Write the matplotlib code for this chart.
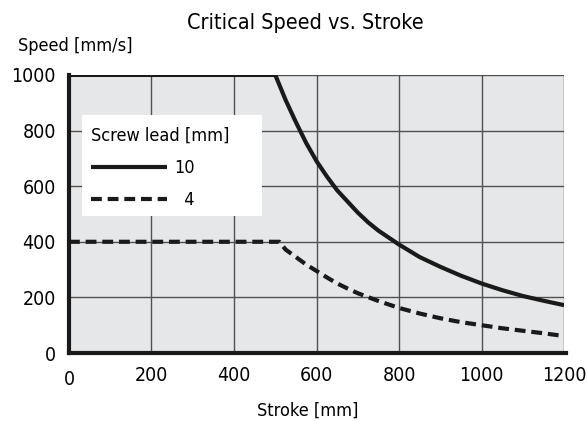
import matplotlib
matplotlib.use('Agg')
import matplotlib.pyplot as plt
from matplotlib.patches import Rectangle

plt.rcParams['font.family'] = ['DejaVu Sans']
plt.rcParams['font.stretch'] = 'condensed'

# values
stroke_10 = [0, 500, 525, 550, 575, 600, 625, 650, 675, 700, 725, 750, 800,
             850, 900, 950, 1000, 1050, 1100, 1150, 1200]
speed_10 = [1000, 1000, 910, 830, 755, 690, 635, 585, 545, 505, 470, 440, 390,
            345, 310, 278, 250, 226, 205, 188, 172]
stroke_4 = [0, 510, 525, 550, 575, 600, 625, 650, 675, 700, 750, 800, 850,
            900, 950, 1000, 1050, 1100, 1150, 1190]
speed_4 = [400, 400, 372, 345, 318, 295, 272, 250, 232, 215, 187, 162, 142,
           125, 111, 100, 89, 80, 71, 63]

x_ticks = [200, 400, 600, 800, 1000, 1200]
y_ticks = [0, 200, 400, 600, 800, 1000]

fig = plt.figure(figsize=(5.87, 4.21), dpi=100)
ax = fig.add_axes([0.1175, 0.1615, 0.8435, 0.6605])
ax.set_facecolor('#e6e7e8')

ax.plot(stroke_10, speed_10, color='#1a1a1a', lw=3, label='10', solid_capstyle='butt')
# figure space keeps the "4" right-aligned under "10"
ax.plot(stroke_4, speed_4, color='#1a1a1a', lw=3, dashes=(2.6, 1.4), label='\u20074')

ax.set_xlim(0, 1200)
ax.set_ylim(0, 1000)
ax.set_xticks(x_ticks)
ax.set_yticks(y_ticks)
ax.tick_params(length=0, labelsize=14)
ax.tick_params(axis='x', pad=9)
ax.tick_params(axis='y', pad=9.5)
ax.text(0, -0.095, '0', transform=ax.get_xaxis_transform(), ha='center', va='center', fontsize=14)

ax.grid(True, color='#505050', lw=1)
ax.set_axisbelow(True)
for s in ['top', 'right']:
    ax.spines[s].set_visible(False)
ax.spines['left'].set_linewidth(3)
ax.spines['bottom'].set_linewidth(3)
ax.spines['bottom'].set_bounds(0, 1205)
ax.spines['left'].set_color('#1a1a1a')
ax.spines['bottom'].set_color('#1a1a1a')

# white box behind the legend (wider than the legend contents)
ax.add_patch(Rectangle((0.0263, 0.493), 0.364, 0.363, transform=ax.transAxes,
                       facecolor='white', edgecolor='none', zorder=2.5))

leg = ax.legend(title='Screw lead [mm]', loc='upper left', bbox_to_anchor=(0.044, 0.815),
                fontsize=13, title_fontsize=13, handlelength=4.2, frameon=False,
                borderpad=0, borderaxespad=0, labelspacing=0.8, handletextpad=0.4,
                alignment='left')
leg.set_zorder(3)

fig.text(0.52, 0.945, 'Critical Speed vs. Stroke', ha='center', va='center', fontsize=15.5)
fig.text(0.031, 0.891, 'Speed [mm/s]', ha='left', va='center', fontsize=13)
fig.text(0.525, 0.024, 'Stroke [mm]', ha='center', va='center', fontsize=13)

fig.savefig('out.png', dpi=100)
